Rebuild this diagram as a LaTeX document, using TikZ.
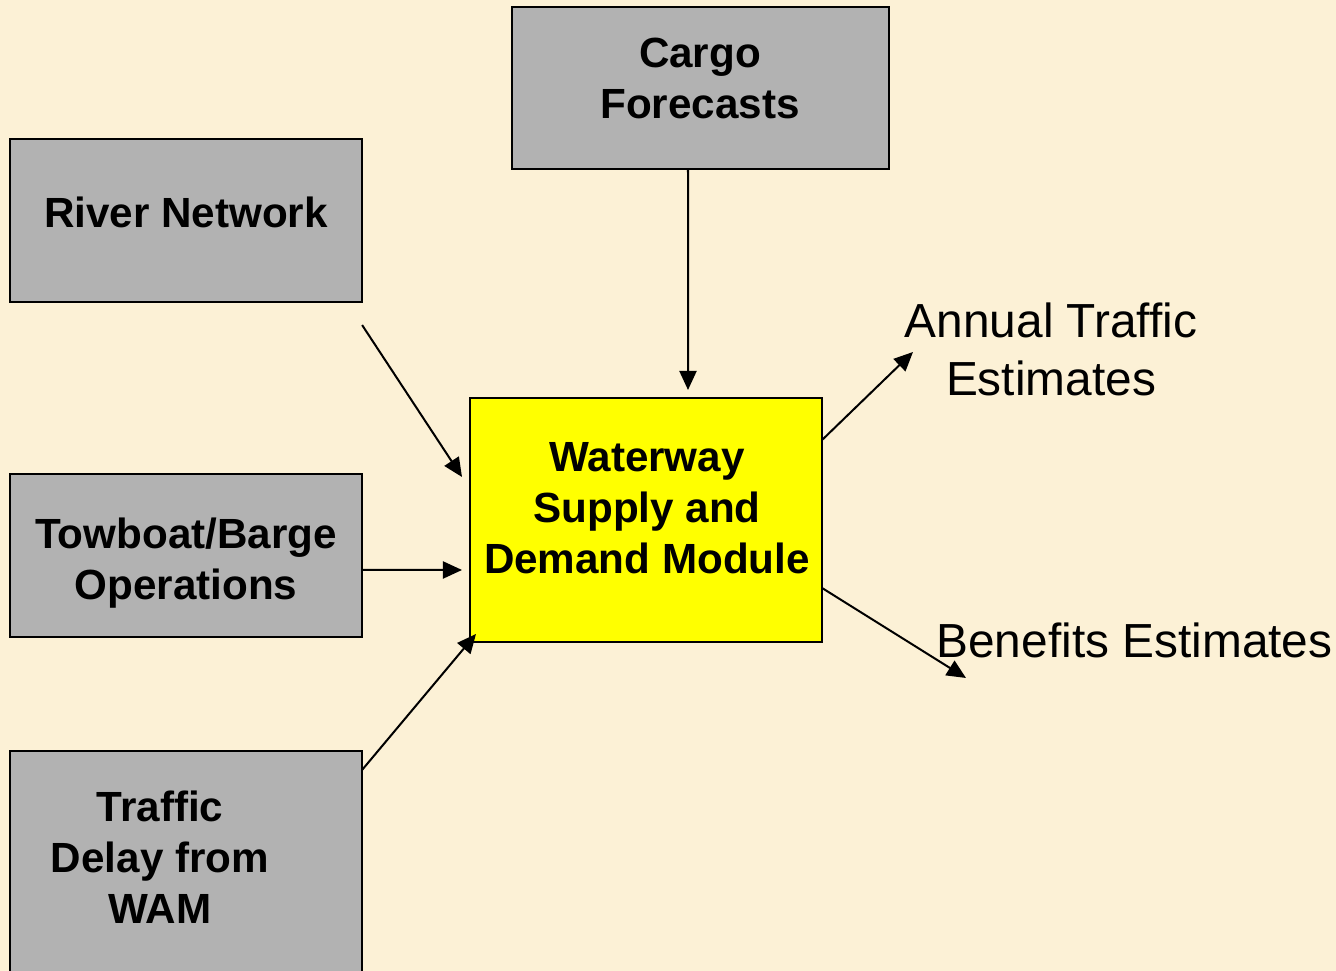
\documentclass[tikz,border=0pt]{standalone}
\usepackage{fontspec}
\setmainfont{Liberation Sans}
\usetikzlibrary{arrows.meta}

\definecolor{parchment}{RGB}{252,241,214}
\definecolor{boxgray}{RGB}{178,178,178}
\definecolor{modyellow}{RGB}{255,255,0}

\tikzset{
  inbox/.style={draw, line width=0.2mm, fill=boxgray, inner sep=0pt, outer sep=0pt},
  modbox/.style={inbox, fill=modyellow},
  boxtext/.style={align=center, font=\fontsize{12}{14.5}\selectfont\bfseries},
  outtext/.style={align=center, font=\fontsize{13.6}{16.5}\selectfont},
  flow/.style={line width=0.2mm, -{Triangle[length=1.9mm, width=1.7mm]}}
}

\begin{document}
\begin{tikzpicture}[x=0.01cm, y=-0.01cm]
   \fill[parchment] (0,0) rectangle (1336,971);
   \useasboundingbox (0,0) rectangle (1336,971);

   % input boxes
   \node[inbox, minimum width=3.77cm, minimum height=1.62cm] (cargo) at (700.5,88) {};
   \node[inbox, minimum width=3.52cm, minimum height=1.63cm] (river) at (186,220.5) {};
   \node[inbox, minimum width=3.52cm, minimum height=1.63cm] (tow) at (186,555.5) {};
   \node[inbox, minimum width=3.52cm, minimum height=2.49cm] (traffic) at (186,875.5) {};
   \node[modbox, minimum width=3.52cm, minimum height=2.44cm] (wsdm) at (646,520) {};

   \node[boxtext] (cargotext) at (700,78) {Cargo\\Forecasts};
   \node[boxtext] (rivertext) at (186,212) {River Network};
   \node[boxtext] (towtext) at (186,563) {Towboat/Barge\\Operations};
   \node[boxtext] (traffictext) at (160,857) {Traffic\\Delay from\\WAM};
   \node[boxtext] (wsdmtext) at (647,508) {Waterway\\Supply and\\Demand Module};

   % outputs
   \node[outtext] (annual) at (1051,349) {Annual Traffic\\Estimates};
   \node[outtext] (benefits) at (1134.5,640) {Benefits Estimates};

   \coordinate (cargoin) at (688,390);
   \coordinate (riverin) at (462,477);
   \coordinate (towin) at (462,570);
   \coordinate (trafficin) at (476,634);
   \coordinate (annualout) at (913,352);
   \coordinate (benefitsout) at (966,678);

   \draw[flow] ([xshift=-1.25mm]cargo.south) -- (cargoin);
   \draw[flow] ([yshift=-2.3mm]river.south east) -- (riverin);
   \draw[flow] ([yshift=-1.45mm]tow.east) -- (towin);
   \draw[flow] ([yshift=-1.9mm]traffic.north east) -- (trafficin);
   \draw[flow] ([yshift=-4.2mm]wsdm.north east) -- (annualout);
   \draw[flow] ([yshift=5.4mm]wsdm.south east) -- (benefitsout);

\end{tikzpicture}
\end{document}
